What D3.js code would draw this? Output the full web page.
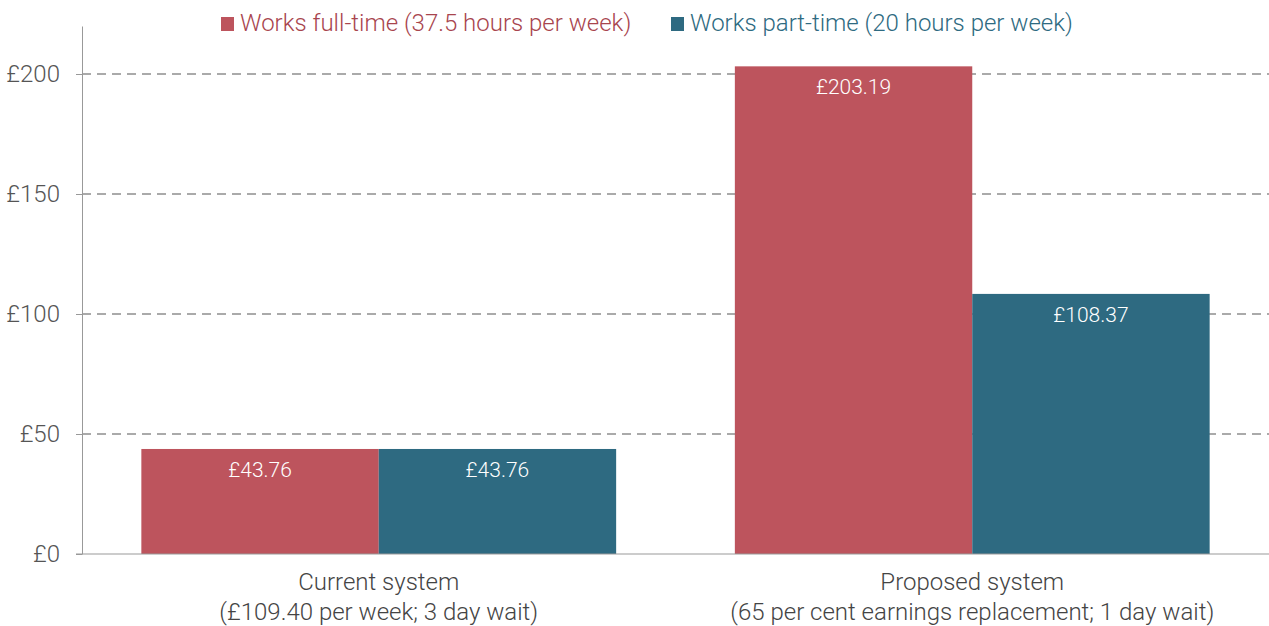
<!DOCTYPE html>
<html>
<head>
<meta charset="utf-8">
<script src="https://cdn.jsdelivr.net/npm/d3@7"></script>
<style>
  body { margin: 0; background: #fff; }
  text { font-family: Roboto, "Noto Sans", sans-serif; }
</style>
</head>
<body>
<div id="chart"></div>
<script>
// data
var categories = ['Current system', 'Proposed system'];
var category_sublabels = ['(£109.40 per week; 3 day wait)', '(65 per cent earnings replacement; 1 day wait)'];
var series_names = ['Works full-time (37.5 hours per week)', 'Works part-time (20 hours per week)'];
var full_time = [43.76, 203.19];
var part_time = [43.76, 108.37];
var y_ticks = [0, 50, 100, 150, 200];

const width = 1269, height = 626;
const margin = {left: 82, right: 0, top: 26, bottom: 72};
const colors = ['#bd545d', '#2e6a81'];
const text_colors = ['#a8454e', '#2e6a81'];

var svg = d3.select('#chart').append('svg')
  .attr('width', width)
  .attr('height', height);

var x = d3.scaleBand()
  .domain(categories)
  .range([margin.left, width - margin.right])
  .paddingInner(0.2)
  .paddingOuter(0.1);

var x_inner = d3.scaleBand()
  .domain([0, 1])
  .range([0, x.bandwidth()]);

var y = d3.scaleLinear()
  .domain([0, 220])
  .range([height - margin.bottom, margin.top]);

// gridlines
svg.append('g')
  .selectAll('line')
  .data(y_ticks.filter(d => d > 0))
  .enter().append('line')
  .attr('x1', margin.left)
  .attr('x2', width)
  .attr('y1', d => y(d))
  .attr('y2', d => y(d))
  .attr('stroke', '#aaaaaa')
  .attr('stroke-width', 2)
  .attr('stroke-dasharray', '9,6');

// y axis
var y_axis = svg.append('g')
  .attr('transform', `translate(${margin.left},0)`)
  .call(d3.axisLeft(y).tickValues(y_ticks).tickFormat(d => '£' + d).tickSize(6).tickSizeOuter(0));
y_axis.select('.domain').attr('stroke', '#999');
y_axis.selectAll('.tick line').attr('stroke', '#999');
y_axis.selectAll('.tick text')
  .attr('x', -22)
  .attr('fill', '#555')
  .style('font-size', '24px')
  .style('font-weight', 300);

// bars
var rows = categories.map((c, i) => ({cat: c, values: [full_time[i], part_time[i]]}));
var groups = svg.selectAll('.bar_group')
  .data(rows)
  .enter().append('g')
  .attr('class', 'bar_group')
  .attr('transform', d => `translate(${x(d.cat)},0)`);

groups.selectAll('rect')
  .data(d => d.values.map((v, j) => ({v: v, j: j})))
  .enter().append('rect')
  .attr('x', d => x_inner(d.j))
  .attr('width', x_inner.bandwidth())
  .attr('y', d => y(d.v))
  .attr('height', d => y(0) - y(d.v))
  .attr('fill', d => colors[d.j]);

groups.selectAll('.val')
  .data(d => d.values.map((v, j) => ({v: v, j: j})))
  .enter().append('text')
  .attr('class', 'val')
  .attr('x', d => x_inner(d.j) + x_inner.bandwidth() / 2)
  .attr('y', d => y(d.v) + 28)
  .attr('text-anchor', 'middle')
  .attr('fill', '#fff')
  .style('font-size', '21px')
  .style('font-weight', 300)
  .text(d => '£' + d.v.toFixed(2));

// baseline
svg.append('line')
  .attr('x1', margin.left - 6)
  .attr('x2', width)
  .attr('y1', y(0))
  .attr('y2', y(0))
  .attr('stroke', '#999')
  .attr('stroke-width', 1);

// category labels
var cat_labels = svg.append('g');
categories.forEach(function(c, i){
  var cx = x(c) + x.bandwidth() / 2;
  var t = cat_labels.append('text')
    .attr('text-anchor', 'middle')
    .attr('fill', '#444')
    .style('font-size', '24px')
    .style('font-weight', 300);
  t.append('tspan').attr('x', cx).attr('y', 590).text(c);
  t.append('tspan').attr('x', cx).attr('y', 620).text(category_sublabels[i]);
});

// legend
var legend_x = [221, 671];
series_names.forEach(function(s, i){
  svg.append('rect')
    .attr('x', legend_x[i])
    .attr('y', 17)
    .attr('width', 13)
    .attr('height', 14)
    .attr('fill', colors[i]);
  svg.append('text')
    .attr('x', legend_x[i] + 19)
    .attr('y', 31)
    .attr('fill', text_colors[i])
    .style('font-size', '24px')
    .style('font-weight', 300)
    .text(s);
});
</script>
</body>
</html>
